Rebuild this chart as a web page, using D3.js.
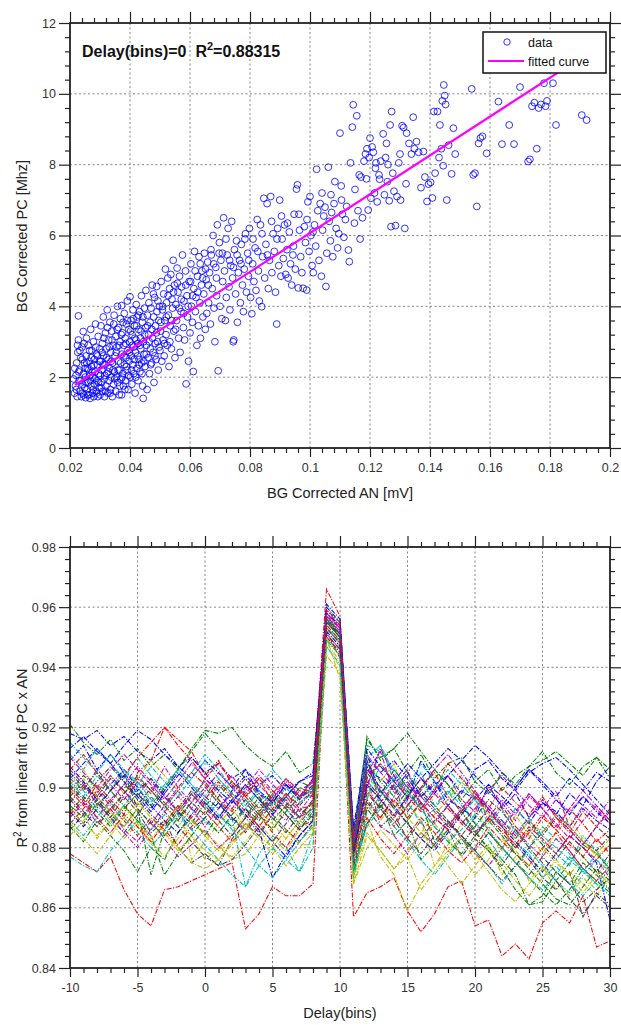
<!DOCTYPE html>
<html><head><meta charset="utf-8">
<script src="https://cdn.jsdelivr.net/npm/d3@7/dist/d3.min.js"></script>
<style>
body{margin:0;background:#fff;}
svg{display:block;}
text{font-family:"Liberation Sans",Arial,sans-serif;}
</style></head><body>
<svg id="fig" width="621" height="1025"></svg>
<script>
// ---- Upper panel: background-corrected PC vs AN, delay 0 ----
const scatterPoints = [
[0.0215,1.55],[0.0218,1.75],[0.0220,2.05],[0.0222,2.4],[0.0224,1.45],[0.0226,2.7],[0.0228,3.05],[0.0228,3.73],[0.0230,1.9],[0.0232,2.2],[0.0234,1.6],[0.0236,2.55],[0.0238,1.45],[0.0240,2.85],[0.0242,1.8],[0.0244,3.29],[0.0245,2.1],[0.0246,1.5],[0.0248,2.4],[0.0249,1.7],
[0.0251,2.0],[0.0252,1.42],[0.0254,2.6],[0.0255,3.1],[0.0257,1.65],[0.0258,2.25],[0.0260,1.85],[0.0261,2.9],[0.0263,1.5],[0.0264,2.45],[0.0266,2.05],[0.0267,1.4],[0.0269,3.35],[0.0270,1.75],[0.0272,2.3],[0.0273,2.75],[0.0275,1.55],[0.0276,2.0],[0.0278,3.0],[0.0279,1.45],[0.0281,2.5],[0.0282,1.8],[0.0284,2.15],[0.0285,3.5],[0.0287,1.6],[0.0288,2.65],[0.0290,1.9],[0.0291,2.35],[0.0293,1.45],[0.0294,3.15],[0.0296,2.1],[0.0297,1.7],[0.0299,2.8],
[0.0300,1.5],[0.0302,2.45],[0.0303,3.45],[0.0305,1.85],[0.0306,2.2],[0.0308,2.95],[0.0309,1.6],[0.0311,3.7],[0.0312,2.6],[0.0314,1.95],[0.0315,1.45],[0.0317,2.35],[0.0318,3.25],[0.0320,1.75],[0.0321,2.8],[0.0323,2.1],[0.0324,3.9],[0.0326,1.55],[0.0327,2.5],[0.0329,3.05],[0.0330,1.9],[0.0332,2.25],[0.0333,3.55],[0.0335,1.65],[0.0336,2.7],[0.0338,2.0],[0.0339,3.3],[0.0341,1.45],[0.0342,2.4],[0.0344,2.9],[0.0345,1.8],[0.0347,3.75],[0.0348,2.15],[0.0350,2.6],
[0.0352,1.6],[0.0353,3.15],[0.0355,2.0],[0.0356,2.85],[0.0358,4.0],[0.0359,1.85],[0.0361,2.45],[0.0362,3.4],[0.0364,1.5],[0.0365,2.2],[0.0367,3.0],[0.0368,3.65],[0.0370,1.95],[0.0372,1.5],[0.0372,4.02],[0.0373,2.65],[0.0375,3.25],[0.0376,2.1],[0.0378,1.75],[0.0379,2.9],[0.0381,3.8],[0.0382,2.35],[0.0384,3.1],[0.0385,1.9],[0.0387,2.55],[0.0388,3.5],[0.0390,2.2],[0.0391,4.15],[0.0393,2.75],[0.0394,1.65],[0.0396,3.35],[0.0397,2.45],[0.0399,3.0],
[0.0400,4.27],[0.0401,2.0],[0.0403,3.6],[0.0404,2.6],[0.0406,1.8],[0.0407,3.2],[0.0409,2.35],[0.0410,3.9],[0.0412,2.85],[0.0413,2.1],[0.0415,3.45],[0.0417,1.55],[0.0418,2.7],[0.0420,3.05],[0.0421,4.05],[0.0423,2.25],[0.0424,3.7],[0.0426,2.95],[0.0427,1.9],[0.0429,3.35],[0.0430,2.5],[0.0432,3.85],[0.0433,2.15],[0.0435,3.1],[0.0436,2.8],[0.0438,4.3],[0.0439,2.4],[0.0441,3.55],[0.0442,1.75],[0.0444,1.4],[0.0445,3.0],[0.0447,2.65],[0.0448,3.95],
[0.0450,2.3],[0.0452,3.4],[0.0453,4.45],[0.0455,2.9],[0.0457,1.65],[0.0458,3.75],[0.0460,2.55],[0.0462,3.2],[0.0463,4.1],[0.0465,2.1],[0.0467,3.55],[0.0468,2.8],[0.0470,3.95],[0.0472,2.4],[0.0474,4.6],[0.0475,3.1],[0.0477,2.7],[0.0479,3.7],[0.0480,1.85],[0.0482,4.25],[0.0484,2.95],[0.0485,3.45],[0.0487,2.5],[0.0489,4.56],[0.0490,3.85],[0.0492,3.0],[0.0494,2.2],[0.0496,3.6],[0.0498,4.0],
[0.0500,2.75],[0.0502,3.3],[0.0504,4.7],[0.0506,2.45],[0.0508,3.9],[0.0510,3.05],[0.0512,4.35],[0.0514,2.6],[0.0516,3.6],[0.0518,5.05],[0.0520,3.2],[0.0522,4.1],[0.0524,2.9],[0.0526,4.8],[0.0528,3.75],[0.0530,2.3],[0.0532,4.5],[0.0534,3.45],[0.0536,4.9],[0.0538,2.8],[0.0540,4.2],[0.0542,3.95],[0.0544,5.3],[0.0546,3.3],[0.0548,4.6],
[0.0550,2.55],[0.0553,4.05],[0.0555,3.6],[0.0557,5.08],[0.0560,4.4],[0.0562,3.1],[0.0565,4.85],[0.0567,2.7],[0.0570,3.85],[0.0572,4.55],[0.0575,5.45],[0.0578,3.4],[0.0580,4.15],[0.0582,3.05],[0.0585,5.0],[0.0587,1.81],[0.0590,4.3],[0.0592,3.7],[0.0595,2.45],[0.0597,4.7],
[0.0600,3.25],[0.0603,5.2],[0.0605,4.0],[0.0608,3.55],[0.0611,2.16],[0.0613,4.5],[0.0615,5.55],[0.0618,3.85],[0.0620,4.25],[0.0623,2.9],[0.0625,4.85],[0.0628,3.45],[0.0630,5.4],[0.0633,4.1],[0.0635,3.1],[0.0638,4.6],[0.0640,5.0],[0.0643,3.7],[0.0646,4.35],[0.0648,5.5],
[0.0651,3.35],[0.0654,4.75],[0.0656,3.8],[0.0659,5.25],[0.0662,4.1],[0.0665,4.95],[0.0668,3.5],[0.0671,5.45],[0.0674,4.5],[0.0677,6.0],[0.0680,3.95],[0.0683,3.0],[0.0686,5.1],[0.0689,4.3],[0.0691,6.3],[0.0694,2.18],[0.0697,5.5],
[0.0700,4.0],[0.0703,5.3],[0.0706,3.65],[0.0709,4.7],[0.0712,6.5],[0.0715,5.0],[0.0718,3.6],[0.0721,4.25],[0.0724,5.45],[0.0727,6.2],[0.0730,4.55],[0.0733,3.9],[0.0736,5.15],[0.0739,6.4],[0.0742,4.8],[0.0744,3.0],[0.0746,3.05],[0.0748,5.6],
[0.0752,4.35],[0.0755,5.85],[0.0758,3.55],[0.0761,4.95],[0.0765,5.3],[0.0768,4.1],[0.0771,5.75],[0.0775,4.6],[0.0778,3.85],[0.0781,5.05],[0.0785,6.05],[0.0788,4.4],[0.0792,5.5],[0.0795,4.85],[0.0798,6.2],
[0.0802,4.25],[0.0806,3.79],[0.0809,5.2],[0.0813,4.7],[0.0817,5.65],[0.0820,4.45],[0.0824,6.45],[0.0828,5.0],[0.0831,4.15],[0.0835,6.3],[0.0839,3.99],[0.0842,5.4],[0.0846,7.05],[0.0849,4.8],
[0.0853,5.75],[0.0857,6.9],[0.0861,4.5],[0.0865,5.3],[0.0869,7.1],[0.0873,4.95],[0.0877,6.05],[0.0881,5.55],[0.0885,4.4],[0.0889,3.5],[0.0892,6.2],[0.0896,5.15],[0.0899,7.0],
[0.0903,4.85],[0.0907,5.9],[0.0911,5.35],[0.0915,6.3],[0.0919,4.9],[0.0923,5.6],[0.0927,4.8],[0.0931,6.1],[0.0935,5.2],[0.0939,4.6],[0.0943,5.45],[0.0947,6.6],
[0.0951,5.05],[0.0955,7.31],[0.0958,7.43],[0.0961,4.52],[0.0965,6.15],[0.0969,5.4],[0.0973,4.95],[0.0977,4.51],[0.0981,6.25],[0.0985,5.8],[0.0989,4.46],[0.0993,6.95],[0.0997,5.55],
[0.1000,7.1],[0.1003,6.0],[0.1007,5.15],[0.1011,4.95],[0.1015,6.3],[0.1019,5.7],[0.1022,7.87],[0.1026,6.7],[0.1030,5.3],[0.1034,6.9],[0.1038,4.85],[0.1042,6.15],[0.1046,6.55],
[0.1050,6.8],[0.1053,4.56],[0.1056,5.5],[0.1061,7.93],[0.1064,6.4],[0.1068,5.85],[0.1072,6.65],[0.1076,5.4],[0.1080,6.9],[0.1083,7.52],[0.1087,6.2],[0.1092,5.65],[0.1096,6.05],
[0.1100,8.89],[0.1104,7.4],[0.1108,6.6],[0.1113,5.95],[0.1118,6.45],[0.1122,6.82],[0.1128,5.59],[0.1131,5.26],[0.1135,8.05],[0.1141,9.06],[0.1144,9.69],[0.1148,6.35],
[0.1156,9.38],[0.1160,6.7],[0.1164,7.71],[0.1167,5.9],[0.1170,7.65],[0.1175,6.5],[0.1180,8.1],[0.1185,8.3],[0.1190,8.45],[0.1194,6.72],[0.1197,8.2],
[0.1200,8.75],[0.1203,7.05],[0.1207,8.5],[0.1211,8.35],[0.1215,7.2],[0.1220,8.05],[0.1224,6.95],[0.1230,7.71],[0.1232,7.59],[0.1236,8.1],[0.1244,8.87],[0.1248,7.15],
[0.1252,8.2],[0.1258,7.52],[0.1260,8.0],[0.1264,6.98],[0.1267,9.12],[0.1270,6.25],[0.1272,9.5],[0.1276,7.76],[0.1280,7.25],[0.1285,6.28],[0.1290,7.1],[0.1296,8.05],
[0.1302,7.0],[0.1307,9.1],[0.1312,9.05],[0.1316,6.2],[0.1320,7.46],[0.1322,8.89],[0.1330,8.6],[0.1338,8.3],[0.1344,9.34],[0.1348,8.45],
[0.1355,8.65],[0.1362,8.35],[0.1370,7.35],[0.1378,8.37],[0.1383,7.65],[0.1390,6.96],[0.1395,7.45],
[0.1402,7.5],[0.1408,7.06],[0.1413,9.5],[0.1417,7.76],[0.1425,9.5],[0.1430,8.2],[0.1433,9.12],[0.1438,8.45],[0.1441,9.8],[0.1444,7.97],[0.1446,10.25],[0.1449,9.95],
[0.1452,9.7],[0.1456,7.0],[0.1462,8.55],[0.1472,7.74],[0.1478,9.03],[0.1484,8.3],
[0.1539,10.14],[0.1544,7.71],[0.1550,7.76],[0.1556,6.82],[0.1562,8.6],[0.1568,8.75],[0.1575,8.8],[0.1589,8.32],
[0.1628,9.78],[0.1640,8.58],[0.1664,9.12],[0.1680,8.58],[0.1700,10.19],
[0.1727,8.09],[0.1733,8.15],[0.1740,9.65],[0.1748,9.75],[0.1756,8.45],[0.1762,9.6],[0.1770,9.7],[0.1780,10.3],[0.1785,9.65],[0.1790,9.8],[0.1810,10.3],[0.1820,9.12],[0.1906,9.4],[0.1922,9.26],
[0.0212,1.95],[0.0216,2.25],[0.0221,1.65],[0.0225,2.9],[0.0229,2.15],[0.0233,2.75],[0.0237,1.9],[0.0241,2.5],[0.0243,1.55],[0.0247,2.95],[0.0250,2.25],[0.0253,1.85],[0.0256,2.4],[0.0259,1.5],[0.0262,2.2],[0.0265,2.75],[0.0268,1.9],[0.0271,2.55],[0.0274,2.15],[0.0277,1.65],
[0.0280,2.35],[0.0283,1.95],[0.0286,2.85],[0.0289,1.55],[0.0292,2.6],[0.0295,1.85],[0.0298,2.45],[0.0301,2.05],[0.0304,1.7],[0.0307,2.7],[0.0310,2.35],[0.0313,3.1],[0.0316,2.05],[0.0319,1.6],[0.0322,2.55],[0.0325,3.4],[0.0328,2.15],[0.0331,2.85],[0.0334,1.55],[0.0337,2.45],
[0.0340,3.05],[0.0343,2.2],[0.0346,3.5],[0.0349,1.95],[0.0354,2.7],[0.0357,3.35],[0.0360,2.2],[0.0363,2.9],[0.0366,1.75],[0.0369,2.4],[0.0371,3.2],[0.0374,2.0],[0.0377,3.55],[0.0380,2.6],[0.0383,1.65],[0.0386,2.95],[0.0389,2.3],[0.0392,3.6],[0.0395,2.05],[0.0398,2.7],
[0.0402,3.3],[0.0405,2.2],[0.0408,2.9],[0.0411,3.65],[0.0414,2.5],[0.0416,3.1],[0.0419,2.0],[0.0422,3.45],[0.0425,2.6],[0.0428,3.75],[0.0431,2.35],[0.0434,2.9],[0.0437,3.3],[0.0440,2.1],[0.0443,3.7],[0.0446,2.45],[0.0449,3.2],[0.0454,2.65],[0.0459,3.45],[0.0464,3.0],
[0.0469,2.35],[0.0473,3.35],[0.0478,4.35],[0.0483,2.6],[0.0488,3.25],[0.0493,4.15],[0.0497,2.85],[0.0503,3.55],[0.0509,4.0],[0.0515,2.95],[0.0521,3.7],[0.0527,4.3],[0.0533,3.0],[0.0539,3.6],[0.0545,4.4],[0.0552,3.35],[0.0558,4.65],[0.0564,3.95],[0.0571,4.2],[0.0579,3.8],
[0.0586,4.6],[0.0594,4.0],[0.0602,4.7],[0.0609,4.3],[0.0617,5.0],[0.0626,4.4],[0.0634,5.2],[0.0642,4.8],[0.0652,5.05],[0.0661,4.6],[0.0670,5.6],[0.0679,5.2],[0.0688,4.8],[0.0698,5.8],[0.0708,5.5],[0.0720,5.9],[0.0732,5.3],[0.0745,5.1],[0.0757,5.45],[0.0770,5.2],
[0.0783,5.9],[0.0796,5.3],[0.0810,5.9],[0.0826,5.55],[0.0840,6.05],[0.0858,5.45],[0.0872,6.4],[0.0890,5.9],[0.0905,6.55],[0.0925,6.35],[0.0945,5.7],[0.0963,6.6],[0.0990,6.45],[0.1010,6.1],[0.1040,7.2],[0.1070,7.15],[0.1105,7.0],[0.1150,7.3],[0.1188,7.6],[0.1218,7.9],
[0.1255,8.6],[0.1300,8.3]
];
// straight-line fit, drawn between these AN end points
const fitAN = [0.0217, 0.1922];
const fitSlope = 54.8;
const fitIntercept = 0.59;
const fitR2 = "0.88315";
const fitDelay = 0;

const topXTicks = [0.02,0.04,0.06,0.08,0.1,0.12,0.14,0.16,0.18,0.2];
const topYTicks = [0,2,4,6,8,10,12];
const legendLabels = ["data", "fitted curve"];

// ---- Lower panel: R^2 of the PC x AN fit for each profile vs delay ----
const delayBins = [-10,-9,-8,-7,-6,-5,-4,-3,-2,-1,0,1,2,3,4,5,6,7,8,9,10,11,12,13,14,15,16,17,18,19,20,21,22,23,24,25,26,27,28,29,30];
const r2Series = [
[.918,.916,.919,.914,.917,.912,.909,.913,.907,.910,.905,.908,.903,.906,.901,.904,.899,.902,.905,.957,.951,.884,.906,.903,.899,.905,.897,.902,.894,.899,.896,.901,.893,.898,.890,.895,.892,.887,.893,.889,.886],
[.921,.915,.911,.916,.909,.913,.907,.911,.906,.913,.919,.918,.920,.914,.910,.907,.912,.905,.908,.955,.950,.882,.917,.909,.913,.905,.911,.903,.908,.910,.902,.906,.899,.904,.907,.912,.905,.901,.907,.910,.903],
[.878,.875,.872,.877,.866,.858,.854,.866,.867,.869,.871,.873,.875,.853,.858,.867,.864,.864,.868,.952,.943,.857,.865,.867,.870,.859,.852,.858,.867,.869,.854,.856,.844,.848,.843,.855,.859,.855,.864,.847,.849],
[.877,.874,.872,.879,.884,.889,.886,.891,.887,.893,.889,.885,.890,.867,.878,.884,.880,.872,.885,.949,.946,.874,.896,.914,.902,.897,.905,.894,.899,.891,.896,.888,.893,.885,.890,.882,.878,.874,.884,.879,.872],
[.903,.899,.906,.901,.896,.902,.898,.907,.900,.895,.903,.899,.904,.897,.901,.896,.903,.899,.902,.958,.953,.880,.909,.895,.901,.906,.893,.899,.904,.896,.892,.900,.895,.889,.897,.893,.899,.887,.894,.890,.896],
[.886,.891,.883,.889,.894,.887,.881,.885,.879,.884,.876,.880,.877,.882,.888,.883,.879,.886,.884,.947,.940,.869,.889,.877,.871,.859,.868,.874,.879,.883,.876,.881,.871,.877,.869,.874,.866,.872,.868,.864,.870],
[.893,.888,.895,.890,.897,.892,.885,.889,.880,.875,.878,.874,.883,.888,.884,.891,.886,.882,.888,.950,.945,.871,.893,.887,.891,.883,.889,.880,.886,.877,.883,.879,.874,.881,.876,.870,.866,.872,.857,.865,.861],
[.909,.914,.906,.911,.905,.899,.903,.897,.892,.886,.890,.895,.889,.893,.887,.882,.877,.884,.889,.953,.948,.878,.907,.898,.904,.896,.909,.902,.896,.893,.890,.901,.897,.893,.888,.895,.891,.898,.894,.902,.907],
[.897,.902,.894,.899,.905,.893,.871,.886,.892,.898,.893,.901,.896,.890,.897,.889,.894,.900,.898,.956,.952,.877,.912,.893,.901,.889,.895,.882,.888,.892,.885,.880,.876,.871,.861,.862,.869,.875,.881,.878,.873],
[.899,.894,.901,.896,.891,.905,.909,.920,.916,.912,.904,.909,.901,.897,.903,.895,.901,.896,.903,.966,.957,.883,.899,.893,.887,.894,.900,.905,.897,.892,.899,.889,.894,.887,.883,.890,.886,.893,.888,.882,.886],
[.911,.906,.913,.908,.903,.910,.904,.899,.906,.901,.897,.903,.898,.894,.900,.906,.901,.896,.900,.954,.949,.880,.914,.912,.906,.900,.908,.902,.898,.904,.896,.893,.889,.885,.880,.887,.883,.878,.872,.878,.874],
[.890,.895,.888,.893,.886,.882,.889,.883,.877,.881,.886,.880,.884,.890,.885,.891,.896,.890,.893,.951,.946,.875,.904,.887,.884,.878,.885,.881,.889,.883,.878,.874,.880,.886,.881,.877,.883,.879,.873,.876,.870],
[.901,.906,.899,.904,.898,.903,.909,.904,.899,.876,.882,.888,.893,.887,.892,.886,.894,.890,.895,.952,.947,.873,.897,.902,.908,.895,.889,.874,.881,.888,.893,.886,.879,.891,.884,.878,.885,.890,.883,.877,.881],
[.905,.900,.897,.903,.899,.894,.900,.895,.891,.897,.902,.896,.890,.886,.892,.897,.893,.888,.894,.955,.951,.879,.902,.897,.906,.900,.895,.890,.886,.881,.887,.893,.888,.883,.889,.884,.890,.886,.881,.887,.883],
[.913,.917,.912,.908,.914,.919,.916,.911,.907,.903,.909,.905,.900,.906,.898,.895,.901,.897,.903,.960,.955,.886,.910,.905,.909,.903,.897,.901,.904,.898,.906,.909,.903,.899,.905,.908,.910,.906,.901,.896,.891],
[.887,.882,.889,.884,.879,.872,.880,.876,.885,.890,.884,.891,.887,.893,.889,.895,.891,.886,.891,.949,.944,.872,.888,.895,.884,.889,.876,.881,.886,.892,.886,.879,.873,.866,.861,.864,.872,.868,.875,.871,.866],
[.895,.901,.897,.892,.898,.903,.899,.894,.900,.905,.901,.896,.892,.898,.903,.898,.893,.899,.897,.957,.953,.878,.901,.896,.890,.897,.903,.899,.908,.903,.898,.893,.900,.895,.891,.897,.890,.885,.892,.887,.893],
[.902,.897,.904,.899,.906,.902,.896,.893,.899,.905,.911,.906,.900,.896,.891,.898,.893,.887,.893,.953,.949,.876,.896,.908,.901,.895,.888,.893,.899,.894,.888,.883,.876,.882,.878,.870,.874,.868,.864,.869,.866],
[.896,.891,.898,.904,.899,.893,.888,.894,.899,.893,.887,.893,.898,.903,.898,.893,.889,.895,.899,.958,.953,.881,.905,.912,.898,.902,.895,.888,.894,.889,.885,.890,.896,.891,.898,.893,.887,.893,.899,.894,.889],
[.884,.889,.894,.889,.883,.888,.882,.877,.883,.889,.885,.881,.876,.878,.884,.880,.886,.881,.881,.944,.938,.868,.880,.886,.881,.876,.882,.888,.883,.877,.871,.876,.883,.879,.874,.880,.875,.871,.877,.872,.868],
[.899,.904,.900,.895,.901,.897,.903,.898,.892,.888,.895,.890,.896,.901,.896,.892,.898,.894,.899,.956,.950,.880,.896,.890,.897,.892,.898,.893,.888,.884,.890,.896,.892,.886,.880,.885,.891,.887,.882,.879,.884],
[.907,.902,.896,.901,.906,.900,.894,.889,.885,.891,.897,.893,.899,.904,.899,.895,.901,.896,.901,.958,.954,.884,.909,.899,.894,.888,.883,.879,.885,.891,.897,.893,.887,.882,.877,.872,.878,.884,.880,.875,.856],
[.892,.897,.892,.887,.893,.898,.894,.900,.906,.912,.918,.913,.908,.903,.897,.892,.897,.902,.900,.959,.955,.885,.916,.910,.913,.918,.912,.906,.901,.895,.888,.885,.880,.875,.870,.865,.861,.866,.873,.869,.865],
[.888,.893,.899,.894,.889,.884,.890,.886,.881,.887,.892,.887,.882,.886,.891,.885,.880,.887,.889,.950,.945,.875,.890,.883,.878,.884,.890,.885,.879,.875,.880,.887,.882,.878,.874,.880,.885,.879,.873,.869,.874],
[.915,.910,.905,.911,.906,.901,.907,.902,.897,.903,.909,.903,.898,.893,.899,.894,.900,.895,.898,.957,.952,.882,.910,.914,.905,.899,.894,.900,.906,.901,.896,.891,.887,.893,.888,.884,.880,.876,.872,.868,.873],
[.900,.895,.890,.896,.901,.907,.902,.897,.892,.898,.893,.889,.895,.900,.906,.901,.897,.892,.898,.956,.951,.879,.900,.913,.904,.898,.893,.899,.894,.888,.893,.899,.904,.899,.894,.890,.896,.892,.897,.893,.888],
[.893,.888,.884,.889,.894,.889,.883,.888,.894,.889,.884,.879,.885,.891,.886,.880,.874,.880,.885,.948,.942,.871,.885,.879,.873,.877,.866,.872,.878,.884,.878,.872,.866,.862,.868,.873,.869,.864,.870,.866,.872],
[.886,.891,.896,.890,.885,.891,.897,.892,.887,.882,.877,.874,.876,.881,.887,.882,.888,.893,.890,.951,.946,.874,.888,.894,.889,.883,.878,.884,.889,.884,.879,.885,.880,.875,.871,.877,.872,.868,.862,.866,.870],
[.903,.908,.913,.908,.902,.897,.892,.898,.904,.910,.905,.899,.895,.901,.896,.891,.897,.902,.904,.961,.956,.887,.913,.907,.902,.908,.903,.898,.904,.909,.914,.910,.905,.900,.906,.902,.897,.903,.899,.905,.902],
[.894,.890,.896,.891,.887,.893,.888,.884,.890,.895,.891,.897,.902,.898,.893,.899,.895,.890,.896,.955,.950,.879,.908,.902,.897,.904,.899,.906,.901,.896,.902,.898,.905,.901,.907,.909,.912,.908,.904,.910,.906],
[.906,.911,.905,.899,.904,.910,.915,.920,.914,.909,.903,.908,.902,.897,.892,.898,.903,.897,.902,.959,.954,.883,.903,.908,.902,.897,.892,.898,.893,.888,.884,.890,.886,.881,.887,.883,.878,.884,.880,.876,.881],
[.889,.884,.890,.895,.890,.885,.880,.886,.891,.886,.881,.876,.871,.867,.874,.880,.876,.882,.887,.949,.944,.873,.887,.893,.887,.882,.876,.871,.877,.883,.879,.874,.868,.874,.879,.874,.869,.865,.871,.876,.872],
[.910,.905,.900,.906,.911,.906,.901,.896,.902,.908,.903,.898,.893,.899,.904,.899,.894,.890,.896,.957,.952,.880,.906,.900,.895,.901,.897,.892,.887,.893,.898,.894,.889,.884,.890,.896,.891,.886,.881,.887,.892],
[.898,.903,.897,.892,.887,.893,.899,.894,.889,.884,.879,.876,.881,.886,.892,.888,.883,.889,.893,.953,.948,.877,.894,.889,.895,.890,.885,.891,.896,.902,.897,.892,.887,.883,.889,.885,.891,.887,.882,.878,.883],
[.901,.896,.902,.907,.902,.896,.891,.887,.893,.899,.894,.889,.884,.890,.895,.890,.885,.891,.895,.955,.950,.880,.898,.893,.888,.894,.899,.894,.889,.884,.879,.874,.869,.874,.880,.875,.869,.863,.858,.864,.860],
[.892,.887,.893,.899,.904,.898,.893,.899,.905,.900,.895,.890,.896,.891,.886,.870,.878,.884,.889,.952,.947,.878,.901,.896,.891,.897,.903,.908,.913,.909,.904,.899,.894,.900,.906,.901,.896,.891,.897,.892,.888],
[.895,.900,.905,.899,.894,.889,.884,.871,.878,.884,.890,.885,.891,.896,.891,.886,.892,.897,.899,.956,.951,.881,.905,.899,.893,.899,.893,.887,.882,.878,.884,.889,.884,.878,.873,.868,.863,.861,.867,.873,.869],
[.891,.896,.890,.885,.891,.887,.882,.888,.894,.890,.896,.902,.897,.892,.887,.893,.898,.893,.894,.954,.949,.878,.895,.890,.896,.890,.895,.890,.886,.892,.897,.892,.887,.880,.885,.891,.886,.881,.877,.883,.878],
[.904,.899,.893,.888,.894,.900,.895,.901,.906,.901,.896,.891,.886,.880,.874,.870,.876,.872,.880,.947,.941,.870,.892,.897,.903,.898,.893,.887,.882,.886,.891,.886,.880,.875,.870,.866,.871,.877,.873,.868,.864],
[.906,.901,.895,.890,.885,.880,.886,.892,.897,.893,.899,.905,.900,.895,.890,.896,.902,.897,.900,.958,.953,.882,.911,.905,.900,.894,.900,.906,.911,.905,.899,.893,.887,.892,.898,.893,.888,.883,.889,.894,.889],
[.888,.883,.878,.884,.890,.895,.890,.885,.880,.875,.873,.876,.882,.888,.883,.878,.883,.889,.886,.950,.936,.868,.884,.879,.873,.879,.885,.880,.874,.868,.874,.880,.875,.869,.864,.870,.876,.871,.865,.871,.876],
[.897,.892,.887,.893,.898,.904,.899,.894,.889,.895,.900,.895,.890,.885,.891,.896,.891,.886,.892,.953,.948,.877,.893,.899,.893,.888,.883,.889,.894,.889,.884,.890,.885,.880,.886,.881,.876,.882,.877,.872,.878]
];
// line colour cycle: b g r c m y k
const seriesColors = ["#0000ff","#008000","#ff0000","#00bfbf","#bf00bf","#bfbf00","#404040"];

const botXTicks = [-10,-5,0,5,10,15,20,25,30];
const botYTicks = [0.84,0.86,0.88,0.9,0.92,0.94,0.96,0.98];

// ---------------------------------------------------------------
const svg = d3.select("#fig");
const L = 70, R = 610;

const xTop = d3.scaleLinear().domain([0.02, 0.2]).range([L, R]);
const yTop = d3.scaleLinear().domain([0, 12]).range([448, 23]);
const xBot = d3.scaleLinear().domain([-10, 30]).range([L, R]);
const yBot = d3.scaleLinear().domain([0.84, 0.98]).range([968, 547]);

function minorsBetween(ticks, n) {
  const out = [];
  for (let i = 0; i < ticks.length - 1; i++) {
    const a = ticks[i], b = ticks[i + 1];
    for (let k = 1; k < n; k++) out.push(a + (b - a) * k / n);
  }
  return out;
}
const fmt = d => String(+d.toFixed(3));

function drawAxes(x, y, xt, yt, nMinX, nMinY) {
  const [x0, x1] = x.range();
  const [y0, y1] = y.range(); // y0 bottom, y1 top
  const g = svg.append("g");
  // dotted grid
  const grid = g.append("g").attr("stroke", "#666").attr("stroke-width", 0.8)
    .attr("stroke-dasharray", "2,2.5");
  grid.selectAll(".gx").data(xt.slice(1, -1)).join("line")
    .attr("x1", d => x(d)).attr("x2", d => x(d)).attr("y1", y1).attr("y2", y0);
  grid.selectAll(".gy").data(yt.slice(1, -1)).join("line")
    .attr("y1", d => y(d)).attr("y2", d => y(d)).attr("x1", x0).attr("x2", x1);

  const mx = minorsBetween(xt, nMinX), my = minorsBetween(yt, nMinY);
  const style = sel => {
    sel.select(".domain").remove();
    sel.selectAll("line").attr("stroke", "#222").attr("stroke-width", 1.2);
    sel.selectAll("text").attr("fill", "#333").attr("font-size", 12.5);
  };
  g.append("g").attr("transform", `translate(0,${y0})`)
    .call(d3.axisBottom(x).tickValues(xt).tickFormat(fmt).tickSize(9).tickPadding(6)).call(style);
  g.append("g").attr("transform", `translate(0,${y0})`)
    .call(d3.axisBottom(x).tickValues(mx).tickFormat("").tickSize(5)).call(style);
  g.append("g").attr("transform", `translate(0,${y1})`)
    .call(d3.axisTop(x).tickValues(xt).tickFormat("").tickSize(11)).call(style);
  g.append("g").attr("transform", `translate(0,${y1})`)
    .call(d3.axisTop(x).tickValues(mx).tickFormat("").tickSize(5)).call(style);
  g.append("g").attr("transform", `translate(${x0},0)`)
    .call(d3.axisLeft(y).tickValues(yt).tickFormat(fmt).tickSize(11).tickPadding(3)).call(style);
  g.append("g").attr("transform", `translate(${x0},0)`)
    .call(d3.axisLeft(y).tickValues(my).tickFormat("").tickSize(5)).call(style);
  g.append("g").attr("transform", `translate(${x1},0)`)
    .call(d3.axisRight(y).tickValues(yt).tickFormat("").tickSize(11)).call(style);
  g.append("g").attr("transform", `translate(${x1},0)`)
    .call(d3.axisRight(y).tickValues(my).tickFormat("").tickSize(5)).call(style);
  return g;
}
function drawFrame(x, y) {
  const [x0, x1] = x.range();
  const [y0, y1] = y.range();
  svg.append("rect").attr("x", x0).attr("y", y1).attr("width", x1 - x0).attr("height", y0 - y1)
    .attr("fill", "none").attr("stroke", "#222").attr("stroke-width", 1.8);
}

// ---------------- upper panel ----------------
drawAxes(xTop, yTop, topXTicks, topYTicks, 5, 5);

svg.append("g").selectAll("circle").data(scatterPoints).join("circle")
  .attr("cx", d => xTop(d[0])).attr("cy", d => yTop(d[1])).attr("r", 3.4)
  .attr("fill", "none").attr("stroke", "#0000ff").attr("stroke-width", 0.8);

const fitPts = fitAN.map(a => [a, fitIntercept + fitSlope * a]);
svg.append("path").datum(fitPts)
  .attr("d", d3.line().x(d => xTop(d[0])).y(d => yTop(d[1])))
  .attr("stroke", "#ff00ff").attr("stroke-width", 2.2).attr("fill", "none");

drawFrame(xTop, yTop);

const ann = svg.append("text").attr("x", 82).attr("y", 57)
  .attr("font-size", 16).attr("font-weight", "bold").attr("fill", "#111");
ann.append("tspan").text(`Delay(bins)=${fitDelay}\u00a0\u00a0R`);
ann.append("tspan").attr("font-size", 11).attr("dy", -7).text("2");
ann.append("tspan").attr("dy", 7).text(`=${fitR2}`);

// legend
const lg = svg.append("g");
lg.append("rect").attr("x", 483).attr("y", 32).attr("width", 123).attr("height", 41)
  .attr("fill", "#fff").attr("stroke", "#111").attr("stroke-width", 1.5);
lg.append("circle").attr("cx", 507).attr("cy", 42).attr("r", 3.2)
  .attr("fill", "none").attr("stroke", "#0000ff").attr("stroke-width", 0.8);
lg.append("line").attr("x1", 488).attr("x2", 524).attr("y1", 61).attr("y2", 61)
  .attr("stroke", "#ff00ff").attr("stroke-width", 2.2);
lg.selectAll("text").data(legendLabels).join("text")
  .attr("x", 528).attr("y", (d, i) => 46.5 + i * 19).attr("font-size", 12.5).attr("fill", "#111")
  .text(d => d);

svg.append("text").attr("x", 340).attr("y", 498).attr("text-anchor", "middle")
  .attr("font-size", 14.5).attr("fill", "#222").text("BG Corrected AN [mV]");
svg.append("text").attr("transform", "translate(27,236) rotate(-90)").attr("text-anchor", "middle")
  .attr("font-size", 14.5).attr("fill", "#222").text("BG Corrected PC [Mhz]");

// ---------------- lower panel ----------------
drawAxes(xBot, yBot, botXTicks, botYTicks, 5, 5);

const lineGen = d3.line().x((d, i) => xBot(delayBins[i])).y(d => yBot(d));
svg.append("g").selectAll("path").data(r2Series).join("path")
  .attr("d", lineGen)
  .attr("fill", "none")
  .attr("stroke", (d, i) => seriesColors[i % seriesColors.length])
  .attr("stroke-width", 1.05)
  .attr("stroke-dasharray", "5,1.5,1.2,1.5");

drawFrame(xBot, yBot);

svg.append("text").attr("x", 340).attr("y", 1018).attr("text-anchor", "middle")
  .attr("font-size", 14.5).attr("fill", "#222").text("Delay(bins)");
const yl = svg.append("text").attr("transform", "translate(27,758) rotate(-90)")
  .attr("text-anchor", "middle").attr("font-size", 14.5).attr("fill", "#222");
yl.append("tspan").text("R");
yl.append("tspan").attr("font-size", 10).attr("dy", -6).text("2");
yl.append("tspan").attr("dy", 6).text(" from linear fit of PC x AN");
</script>
</body></html>
